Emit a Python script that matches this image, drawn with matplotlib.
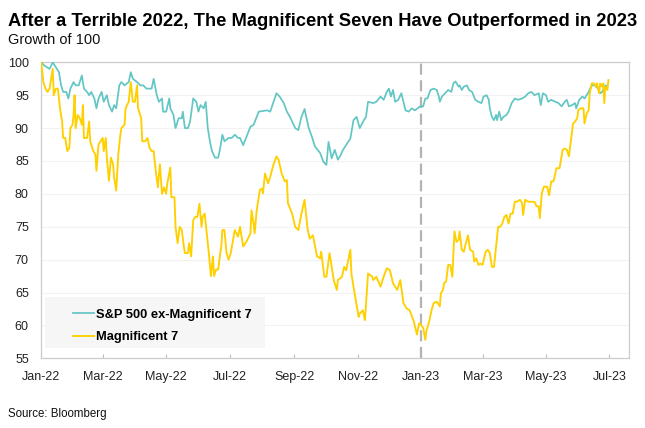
import numpy as np
import matplotlib
matplotlib.use("Agg")
import matplotlib.pyplot as plt
import matplotlib.dates as mdates
from matplotlib.patches import Rectangle

# data: day offsets from 2022-01-01 and index level (start = 100)
spx_days = [0, 3, 8, 11, 15, 17, 19, 21, 24, 26, 28, 31, 33, 36, 39, 41, 44, 46, 48, 51,
            53, 55, 58, 60, 63, 65, 68, 70, 72, 75, 77, 80, 84, 86, 88, 92, 95, 98, 101, 106,
            108, 111, 113, 116, 117, 120, 123, 124, 127, 129, 132, 135, 136, 138, 141, 143, 146, 149, 151, 153,
            156, 158, 160, 162, 164, 167, 170, 172, 174, 176, 180, 183, 186, 189,
            191, 194, 201, 204, 209, 217, 220, 226, 229, 233, 236, 239, 244, 247, 250, 253,
            257, 260, 263, 268, 271, 274, 276, 279, 282, 285, 287, 290, 294, 297, 300, 303,
            306, 310, 312, 314, 319, 322, 326, 329, 332, 334, 336, 338, 340, 343, 346, 350,
            353, 356, 359, 364,
            367, 369, 371, 374, 377, 380, 382, 383, 385, 388, 391, 394, 396, 398, 401, 402,
            404, 406, 409, 411, 414, 417, 420, 423, 425, 428, 430, 431, 433, 435, 437, 438,
            440, 442, 444, 447, 449, 452, 455, 458, 462, 465, 468, 471, 474, 478, 480, 482,
            485, 487, 490, 494, 497, 500, 503, 505, 507, 510, 513, 514, 517, 520, 522, 526,
            529, 532, 535, 537, 539, 542, 544]
spx_vals = [100, 99.5, 99, 100, 99, 98.5, 96.5, 95.5, 95.5, 94.5, 96, 97, 96.5, 96.5, 98, 96, 95.5, 95, 95.5, 94.5,
            93, 94.5, 95.5, 94, 95, 93.5, 92.5, 93.5, 93, 96.5, 97, 96.5, 97, 98.5, 97.5, 97, 96.5, 96.5, 96, 96,
            97.5, 95, 94, 94.5, 92.5, 92.5, 94.5, 93, 92, 90, 91.5, 91.5, 92.5, 90, 90, 91, 94.5, 94, 92.5, 93.5,
            93, 94, 90, 88, 86.5, 85.5, 85.5, 87, 89, 88, 88.5, 88.5, 89, 88.5,
            88.5, 87.4, 90.2, 90.5, 92.5, 92.7, 92.5, 95.3, 94.8, 93.8, 92.5, 91.7, 90, 89.7, 91.7, 92.9,
            90, 88.7, 87.2, 86.2, 84.9, 84.4, 87.9, 85.4, 86.7, 85.2, 85.7, 86.7, 87.7, 88.4, 91.2, 91.7,
            90, 91.2, 91.7, 94, 93.8, 94, 94.8, 94.3, 95.5, 96, 94.8, 95.8, 94, 94.3, 95.3, 92.7,
            92.5, 93, 92.7, 93.3,
            93.3, 94.5, 94.5, 95.8, 96, 95.8, 94.8, 94, 94.8, 95.3, 95.8, 95.5, 96.8, 97.1, 96.3, 96.5,
            95.8, 96.3, 96.5, 95.8, 95.5, 94.3, 94, 93.8, 94.8, 95, 94.3, 93, 91.7, 91.2, 92, 91.2,
            92.5, 91.2, 91.7, 92, 92.5, 93.8, 94.5, 94.3, 94.5, 94.8, 95.3, 95.5, 95, 95.3, 93.5, 95.3,
            95, 94, 94.3, 94, 93.8, 93.3, 94, 94.3, 93.3, 93.5, 93.8, 93, 94.3, 94.8, 94.5, 95.5,
            96.5, 96.5, 96, 95.3, 95.5, 96.5, 96.3]

mag7_days = [0, 2, 4, 6, 8, 11, 12, 14, 16, 18, 20, 21, 23, 25, 27, 28, 30, 31, 32, 33,
             35, 37, 39, 40, 41, 44, 46, 47, 50, 52, 53, 55, 57, 59, 60, 62, 63, 65, 67, 69,
             70, 72, 74, 76, 77, 80, 81, 84, 86, 88, 90, 92, 93, 96, 97, 100, 102, 104, 106, 108,
             110, 112, 114, 116, 118, 120, 121, 124, 125, 128, 129, 131, 133, 135, 137, 138, 141, 142, 144, 146,
             148, 150, 152, 154, 155, 157, 159, 161, 163, 165, 166, 168, 170, 172, 173, 174, 176, 178, 180, 182,
             186, 189, 191, 194, 197, 201, 202, 204, 205, 207, 210, 212, 213, 215, 218, 220, 223, 226, 228, 231,
             234, 236, 237, 241, 244, 247, 250, 253, 256, 258, 261, 265, 268, 269, 272, 274, 277, 281, 284, 285,
             289, 291, 293, 297, 298, 301, 305, 306, 309, 311, 314, 318, 319, 322, 326, 329, 332, 335, 338, 342,
             345, 348, 351, 354, 358, 361, 363,
             364, 367, 369, 370, 373, 375, 377, 380, 383, 384, 386, 387, 389, 391, 393, 395, 396, 397, 399, 401,
             402, 404, 406, 408, 410, 412, 415, 416, 418, 420, 422, 424, 427, 429, 431, 433, 435, 437, 439, 441,
             443, 445, 447, 449, 451, 453, 455, 457, 460, 462, 463, 465, 468, 471, 474, 476, 478, 479, 481, 483,
             486, 488, 490, 492, 493, 495, 498, 501, 503, 505, 507, 509, 511, 513, 515, 516, 518, 521, 522, 524,
             526, 527, 529, 531, 533, 534, 536, 537, 539, 540, 541, 542, 544, 545]
mag7_vals = [100, 97, 96, 95.5, 96, 99, 95, 96, 96, 93, 91, 88.5, 88.5, 86.5, 87, 90, 90.5, 92, 95, 90,
             92, 91.5, 90.5, 93.5, 88.5, 88.5, 91, 88, 86.5, 86, 83.5, 87.5, 88, 88.5, 86.5, 88.5, 85.5, 82, 85.5, 84.5,
             82.5, 80.5, 86, 89, 90, 90.5, 93, 94, 97, 94, 94, 96.5, 93, 91.5, 88, 88, 88.5, 87, 86.5, 86.5,
             83.5, 81, 84.5, 80, 81, 80, 81.5, 84, 79.5, 79.5, 75, 72.5, 75, 74.5, 72, 71, 71, 72.5, 70.5, 76,
             76.5, 76.5, 78.5, 75, 76.5, 77, 74, 71, 67.5, 70.5, 67.5, 68.5, 68.5, 71, 72, 74.5, 74.5, 71, 70, 71,
             74.5, 73.5, 75, 72, 72.7, 74, 77.5, 75.5, 74, 77.5, 80.6, 80.8, 80.1, 83.1, 81.6, 82.6, 84.4, 85.7, 85.2, 83.1,
             81.9, 82.1, 78.6, 77, 75, 74.5, 77, 79.1, 74.5, 73.2, 73.7, 70.5, 70.2, 71.2, 67.4, 67.4, 71, 66.9, 65.4, 66.9,
             67.4, 68.9, 68.4, 71.5, 67.9, 64.9, 61.3, 61.8, 62.3, 60.8, 67.9, 67.4, 66.9, 67.4, 65.9, 67.4, 68.7, 68.4, 66.4, 65.4,
             66.9, 63.4, 62.6, 62.3, 60.6, 58.6, 60.3,
             60.3, 59.6, 57.8, 59.1, 60.8, 62.3, 63.4, 63.6, 62.9, 64.9, 65.4, 66.4, 66.7, 69.2, 69.2, 67.4, 71, 74.3, 72.7, 73,
             74.3, 71.5, 71.2, 72.5, 73.7, 71.5, 71.2, 69.7, 70.2, 69.2, 69.4, 69.2, 71.2, 71.5, 71, 68.9, 68.9, 72, 75, 75,
             75.5, 76.5, 76.8, 75.5, 77, 77, 78.8, 78.8, 79.1, 78.6, 76.8, 79.1, 78.8, 78.8, 78.8, 78.1, 78.1, 76.3, 80.1, 81.1,
             81.1, 79.8, 81.9, 81.9, 82.4, 83.9, 83.9, 86.7, 86.9, 86.7, 85.7, 88.2, 90.7, 91, 91.5, 92.7, 93, 93, 90.7, 92.2,
             92.7, 95.3, 96.8, 96.8, 96.3, 96.8, 95.3, 96.8, 96.3, 96.8, 93.8, 96.3, 95.8, 97.3]

labels = ["S&P 500 ex-Magnificent 7", "Magnificent 7"]
colors = ["#62c6c4", "#ffd000"]

start = np.datetime64("2022-01-01")
spx_dates = start + np.array(spx_days).astype("timedelta64[D]")
mag7_dates = start + np.array(mag7_days).astype("timedelta64[D]")

plt.rcParams["font.family"] = ["Liberation Sans", "DejaVu Sans"]

fig = plt.figure(figsize=(6.45, 4.28), dpi=100)
ax = fig.add_axes([0.064, 0.1628, 0.9116, 0.6916])

ax.plot(spx_dates, spx_vals, color=colors[0], lw=1.25, label=labels[0], zorder=3)
ax.plot(mag7_dates, mag7_vals, color=colors[1], lw=1.35, label=labels[1], zorder=4)
ax.axvline(np.datetime64("2023-01-01"), color="#b3b3b3", lw=1.6, ls=(0, (5, 2.5)), zorder=2)

ax.set_xlim(start, np.datetime64("2023-07-20"))
ax.set_ylim(55, 100)
ax.set_yticks(np.arange(55, 101, 5))
ax.xaxis.set_major_locator(mdates.MonthLocator(bymonth=[1, 3, 5, 7, 9, 11]))
ax.xaxis.set_major_formatter(mdates.DateFormatter("%b-%y"))
ax.grid(axis="y", color="#f2f2f2", lw=0.8, zorder=0)
for s in ax.spines.values():
    s.set_color("#cccccc")
    s.set_linewidth(0.9)
ax.tick_params(axis="x", direction="in", length=3, color="#bbbbbb", pad=9)
ax.tick_params(axis="y", length=0, pad=9)
for t in ax.get_xticklabels() + ax.get_yticklabels():
    t.set_fontsize(9)
    t.set_color("#222222")

# legend panel
ax.add_patch(Rectangle((0.006, 0.034), 0.374, 0.174, transform=ax.transAxes,
                       facecolor="#f6f6f6", edgecolor="none", zorder=5))
leg = ax.legend(loc="lower left", bbox_to_anchor=(0.035, 0.012), frameon=False,
                handlelength=1.6, handletextpad=0.15, labelspacing=0.8,
                prop={"weight": "bold", "size": 9.3})
leg.set_zorder(6)

fig.text(0.012, 0.94, "After a Terrible 2022, The Magnificent Seven Have Outperformed in 2023",
         fontsize=13.2, fontweight="bold", color="black")
fig.text(0.012, 0.898, "Growth of 100", fontsize=10.5, color="#111111")
fig.text(0.012, 0.025, "Source: Bloomberg", fontsize=8.3, color="#111111")

fig.savefig("out.png", dpi=100)
